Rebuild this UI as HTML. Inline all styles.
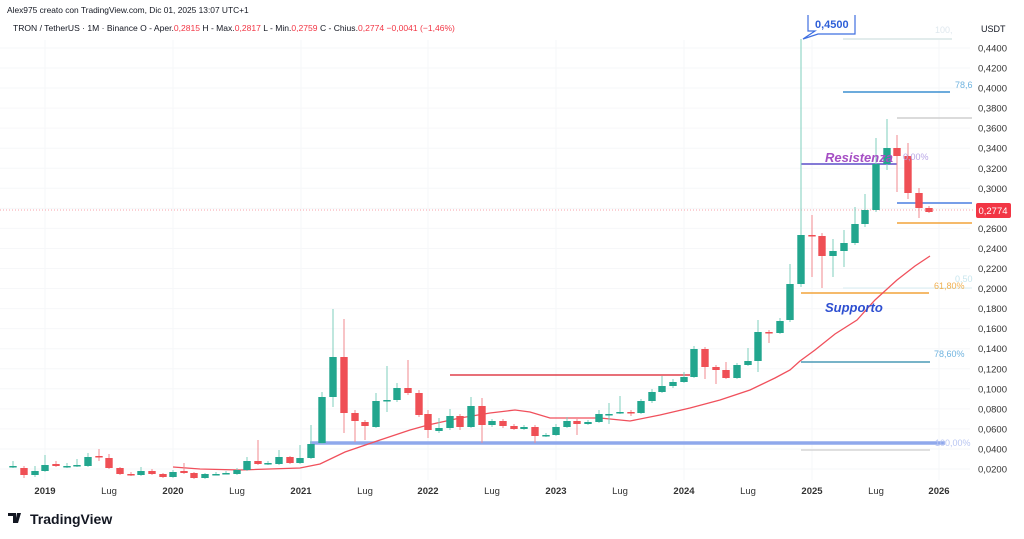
<!DOCTYPE html>
<html><head><meta charset="utf-8"><style>
body{margin:0;background:#fff;width:1024px;height:539px;overflow:hidden;font-family:"Liberation Sans",sans-serif}
svg{position:absolute;left:0;top:0}
</style></head><body>
<svg id="s" width="1024" height="539" xmlns="http://www.w3.org/2000/svg" font-family="Liberation Sans, sans-serif">
<g id="grid" stroke="#f6f7f9" stroke-width="1"></g>
<text x="7" y="13" font-size="8.4" fill="#131722">Alex975 creato con TradingView.com, Dic 01, 2025 13:07 UTC+1</text>
<text x="13" y="31" font-size="8.55" fill="#131722">TRON / TetherUS · 1M · Binance  O - Aper.<tspan fill="#f23645">0,2815</tspan>  H - Max.<tspan fill="#f23645">0,2817</tspan>  L - Min.<tspan fill="#f23645">0,2759</tspan>  C - Chius.<tspan fill="#f23645">0,2774  −0,0041 (−1,46%)</tspan></text>
<line x1="0" y1="210" x2="975" y2="210" stroke="#f7a0a8" stroke-width="1" stroke-dasharray="1,2"/>
<line x1="310" y1="443" x2="945" y2="443" stroke="#8fa8ec" stroke-width="3.5"/>
<line x1="450" y1="375" x2="690" y2="375" stroke="#e0404c" stroke-width="1.5"/>
<line x1="801" y1="450" x2="930" y2="450" stroke="#d5d5d5" stroke-width="1.5"/>
<line x1="801" y1="362" x2="930" y2="362" stroke="#4a9ab5" stroke-width="1.5"/>
<line x1="843" y1="288" x2="972" y2="288" stroke="#d8eef2" stroke-width="1"/>
<line x1="801" y1="293" x2="929" y2="293" stroke="#f2a33a" stroke-width="1.5"/>
<line x1="801" y1="164" x2="897" y2="164" stroke="#5b4fc9" stroke-width="1.5"/>
<line x1="897" y1="203" x2="972" y2="203" stroke="#4a7fe0" stroke-width="1.5"/>
<line x1="897" y1="223" x2="972" y2="223" stroke="#f2a33a" stroke-width="1.5"/>
<line x1="897" y1="118" x2="972" y2="118" stroke="#cfcfcf" stroke-width="1.5"/>
<line x1="843" y1="92" x2="950" y2="92" stroke="#3b8fd0" stroke-width="1.5"/>
<line x1="843" y1="39" x2="952" y2="39" stroke="#d8e6e6" stroke-width="1.5"/>
<line x1="801" y1="39" x2="801" y2="236" stroke="#8fd3c6" stroke-width="1"/>
<polyline id="ma" fill="none" stroke="#f0505c" stroke-width="1.3" points="173,467 200,469 240,470 300,468 320,464 345,452 380,440 410,430 428,425 460,418 490,413 515,410 530,412 550,418 600,418 630,421 660,415 690,408 720,400 750,390 775,378 790,370 800,361 815,350 835,334 857,320 875,300 897,280 915,266 930,256"/>
<g id="c"></g>
<text x="825" y="162" font-size="13" font-weight="bold" font-style="italic" fill="#a64fc4">Resistenza</text>
<text x="903" y="160" font-size="9" fill="#b9a6e6">0,00%</text>
<text x="825" y="312" font-size="13" font-weight="bold" font-style="italic" fill="#2e4fd1">Supporto</text>
<text x="934" y="289" font-size="9" fill="#f0b050">61,80%</text>
<text x="955" y="282" font-size="9" fill="#c8e6ee">0,50</text>
<text x="934" y="357" font-size="9" fill="#6fb3df">78,60%</text>
<text x="955" y="88" font-size="9" fill="#6fb3df">78,6</text>
<text x="935" y="33" font-size="9" fill="#dfe8ee">100,</text>
<text x="935" y="446" font-size="9" fill="#b9c6f2">100,00%</text>
<path d="M808,15 L808,31 L815,31 L803,39 L818,34 L855,34 L855,15" fill="#fff" stroke="#3f6fe0" stroke-width="1.2"/>
<text x="815" y="28" font-size="11" font-weight="bold" fill="#2e5fd8">0,4500</text>
<text x="981" y="32" font-size="9" fill="#131722">USDT</text>
<g id="yl" font-size="9.5" fill="#333" text-anchor="end"></g>
<rect x="976" y="203" width="35" height="15" rx="2" fill="#f23645"/>
<text x="993" y="214" font-size="9.5" fill="#fff" text-anchor="middle">0,2774</text>
<g font-size="9.5" fill="#333" text-anchor="middle">
<text x="45" y="494" font-weight="bold">2019</text><text x="109" y="494">Lug</text>
<text x="173" y="494" font-weight="bold">2020</text><text x="237" y="494">Lug</text>
<text x="301" y="494" font-weight="bold">2021</text><text x="365" y="494">Lug</text>
<text x="428" y="494" font-weight="bold">2022</text><text x="492" y="494">Lug</text>
<text x="556" y="494" font-weight="bold">2023</text><text x="620" y="494">Lug</text>
<text x="684" y="494" font-weight="bold">2024</text><text x="748" y="494">Lug</text>
<text x="812" y="494" font-weight="bold">2025</text><text x="876" y="494">Lug</text>
<text x="939" y="494" font-weight="bold">2026</text>
</g>
<g transform="translate(8,513)"><path d="M0,0h8v10h-3v-7h-5z M9,0h4l-3,10h-3z" fill="#131722"/></g>
<text x="30" y="524" font-size="14" font-weight="bold" fill="#131722">TradingView</text>
</svg>
<script>
var ns="http://www.w3.org/2000/svg";
function el(p,t,a){var e=document.createElementNS(ns,t);for(var k in a)e.setAttribute(k,a[k]);document.getElementById(p).appendChild(e);return e;}
for(var i=0;i<22;i++){var v=0.02+i*0.02,y=489.05-1002.5*v;el('grid','line',{x1:0,x2:970,y1:y,y2:y});
var t=el('yl','text',{x:1007,y:y+3.5});t.textContent='0,'+(v.toFixed(4).split('.')[1]);}
[45,173,301,428,556,684,812,939].forEach(function(x){el('grid','line',{x1:x,x2:x,y1:40,y2:480});});
var d=[[13,467,466,461,468],[24,468,475,466,478],[35,475,471,466,477],[45,471,465,455,472],[56,464,466,461,467],[67,466,466,463,468],[77,466,465,459,467],[88,466,457,453,467],[99,456,457,449,461],[109,458,468,454,469],[120,468,474,467,475],[131,474,475,472,476],[141,475,471,467,476],[152,471,474,469,475],[163,474,477,473,478],[173,477,472,470,478],[184,471,473,463,474],[194,473,478,472,479],[205,478,474,473,479],[216,474,474,472,475],[226,473,473,471,474],[237,474,470,468,475],[247,470,461,457,471],[258,461,464,440,465],[268,463,463,461,465],[279,464,457,450,465],[290,457,463,456,464],[300,463,458,445,464],[311,458,444,425,459],[322,443,397,392,444],[333,397,357,309,407],[344,357,413,319,433],[355,413,421,410,442],[365,422,426,420,440],[376,427,401,393,428],[387,401,400,366,412],[397,400,388,383,402],[408,388,393,360,395],[419,393,415,390,417],[428,414,430,410,438],[439,431,428,418,433],[450,428,416,409,430],[460,416,427,414,430],[471,427,406,397,428],[482,406,425,398,443],[492,425,421,419,427],[503,421,426,419,428],[514,426,429,424,430],[524,429,427,425,430],[535,427,436,425,443],[546,435,435,433,437],[556,435,427,424,436],[567,427,421,417,428],[577,421,424,419,435],[588,424,422,420,425],[599,422,414,410,423],[609,414,414,403,424],[620,413,412,396,414],[631,412,413,410,416],[641,413,401,399,414],[652,401,392,389,403],[662,392,386,376,393],[673,386,382,379,388],[684,382,377,372,383],[694,377,349,346,378],[705,349,367,347,379],[716,367,370,365,384],[726,370,378,362,379],[737,378,365,363,379],[748,365,361,348,366],[758,361,332,320,372],[769,332,333,330,343],[780,333,321,318,334],[790,320,284,264,322],[801,284,235,39,287],[812,235,236,215,277],[822,236,256,233,288],[833,256,251,239,277],[844,251,243,230,267],[855,243,224,207,245],[865,224,210,194,227],[876,210,164,138,212],[887,164,148,119,170],[897,148,156,135,192],[908,156,193,143,199],[919,193,208,188,218],[929,208,212,206,213]];
d.forEach(function(c){var up=c[2]<=c[1],col=up?'#22a68e':'#ef4f55';
el('c','line',{x1:c[0],x2:c[0],y1:c[3],y2:c[4],stroke:up?'#7fcfbe':'#f08a8f','stroke-width':1});
var top=Math.min(c[1],c[2]),h=Math.max(Math.abs(c[1]-c[2]),1.5);
el('c','rect',{x:c[0]-3.7,y:top,width:7.4,height:h,fill:col});});
</script>
</body></html>
